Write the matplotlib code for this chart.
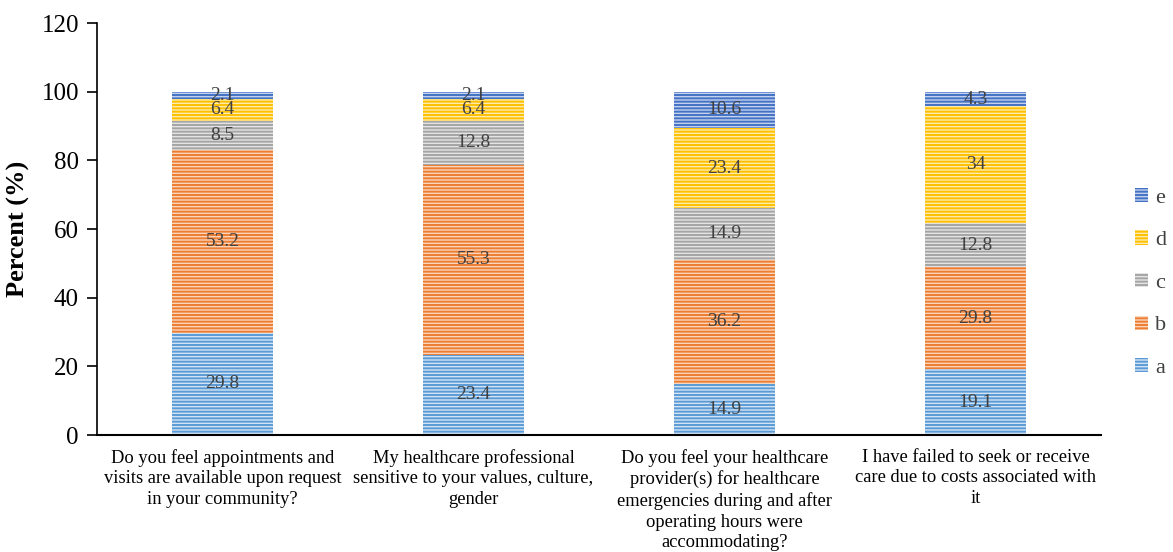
import numpy as np
import matplotlib.pyplot as plt
import matplotlib as mpl

plt.rcParams['font.family'] = ['Liberation Serif', 'DejaVu Serif']

questions = [
    "Do you feel appointments and\nvisits are available upon request\nin your community?",
    "My healthcare professional\nsensitive to your values, culture,\ngender",
    "Do you feel your healthcare\nprovider(s) for healthcare\nemergencies during and after\noperating hours were\naccommodating?",
    "I have failed to seek or receive\ncare due to costs associated with\nit",
]
answers = ['a', 'b', 'c', 'd', 'e']
a = [29.8, 23.4, 14.9, 19.1]
b = [53.2, 55.3, 36.2, 29.8]
c = [8.5, 12.8, 14.9, 12.8]
d = [6.4, 6.4, 23.4, 34]
e = [2.1, 2.1, 10.6, 4.3]
series = [a, b, c, d, e]

colors = ['#5B9BD5', '#ED7D31', '#A5A5A5', '#FFC000', '#4472C4']
light = ['#D2E3F4', '#FAD6BD', '#E4E4E4', '#FFEBAD', '#C3D1EE']

fig = plt.figure(figsize=(11.73, 5.52), dpi=100)
ax = fig.add_axes([97 / 1173, (552 - 435) / 552, (1101 - 97) / 1173, (435 - 23) / 552])

mpl.rcParams['hatch.linewidth'] = 1.4

x = np.arange(len(questions))
bottom = np.zeros(len(questions))
handles = []
for i, vals in enumerate(series):
    vals = np.array(vals)
    bars = ax.bar(x, vals, width=0.4, bottom=bottom, facecolor=light[i],
                  edgecolor=light[i], linewidth=0, hatch='-----', label=answers[i])
    for bar in bars:
        bar._hatch_color = mpl.colors.to_rgba(colors[i])
    handles.append(bars)
    for xi, v, bt in zip(x, vals, bottom):
        ax.text(xi, bt + v / 2, f"{v:g}", ha='center', va='center',
                fontsize=14, color='#404040')
    bottom += vals

ax.set_xlim(-0.5, 3.5)
ax.set_ylim(0, 120)
ax.set_yticks(range(0, 121, 20))
ax.tick_params(axis='y', labelsize=18, direction='out', length=7, width=1.2, pad=6)
ax.set_xticks(x)
ax.set_xticklabels(questions, fontsize=13.3, linespacing=1.27)
ax.tick_params(axis='x', length=0, pad=10)
ax.set_ylabel('Percent (%)', fontsize=19, fontweight='bold', labelpad=8)
for s in ['top', 'right']:
    ax.spines[s].set_visible(False)
ax.spines['left'].set_linewidth(1.2)
ax.spines['bottom'].set_linewidth(1.5)

leg = fig.legend(handles[::-1], answers[::-1], loc='center left',
                 bbox_to_anchor=(1135 / 1173, (552 - 283) / 552), frameon=False,
                 fontsize=16, handlelength=0.6, handleheight=0.6, handletextpad=0.3,
                 labelspacing=1.02, labelcolor='#404040', borderpad=0, borderaxespad=0)

fig.savefig('out.png', dpi=100)
